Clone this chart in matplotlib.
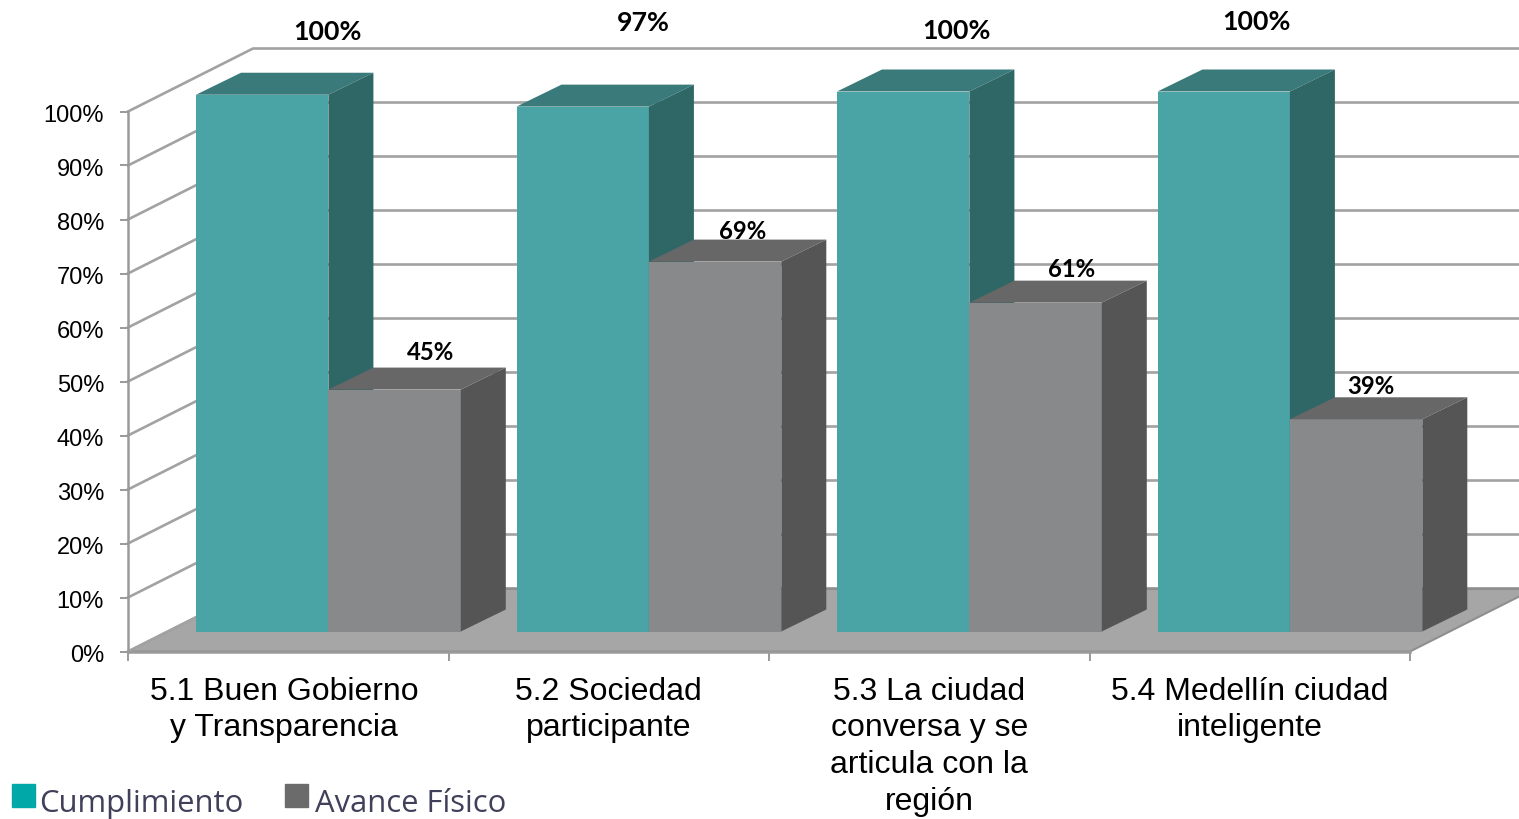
import matplotlib
matplotlib.use("Agg")
import matplotlib.pyplot as plt
from matplotlib.patches import Polygon, Patch
from matplotlib.transforms import ScaledTranslation

categories = ["5.1 Buen Gobierno\ny Transparencia", "5.2 Sociedad\nparticipante",
              "5.3 La ciudad\nconversa y se\narticula con la\nregión", "5.4 Medellín ciudad\ninteligente"]
cumplimiento = [99.4, 97.2, 100, 100]
avance = [44.8, 68.5, 60.9, 39.3]
cumplimiento_labels = ["100%", "97%", "100%", "100%"]
avance_labels = ["45%", "69%", "61%", "39%"]
series_names = ["Cumplimiento", "Avance Físico"]
yticks = list(range(0, 101, 10))
category_ticks = [0.4875, 1.5, 2.5, 3.5]

W, H = 1519, 819
L, R, T, B = 128, 1410, 111.5, 651.5
PX_X = (R - L) / 4
PX_Y = (B - T) / 100
WALL_DX, WALL_DY = 125 / PX_X, 63 / PX_Y      # depth of the box
BAR_DX, BAR_DY = 45 / PX_X, 22 / PX_Y         # depth of a bar
FRONT_DX, FRONT_DY = 40 / PX_X, 20 / PX_Y     # bar offset from the front edge
GAP = 28 / PX_X
BW = 132.4 / PX_X

TEAL = ("#4aa3a5", "#3a7a7a", "#2f6666")
GREY = ("#88898b", "#676768", "#555556")
LINE = "#a2a2a2"

# text offsets from the centre of each bar top, in pixels
cum_off = [(65.5, -63), (61, -84), (53.5, -60), (33, -69.5)]
ava_off = [(36, -37), (27.5, -30), (36, -33), (14.5, -33)]

fig = plt.figure(figsize=(W / 100, H / 100), dpi=100, facecolor="white")
ax = fig.add_axes([L / W, (H - B) / H, (R - L) / W, (B - T) / H])
ax.set_xlim(0, 4)
ax.set_ylim(0, 100)
ax.patch.set_visible(False)

# floor
ax.add_patch(Polygon([(0, 0), (WALL_DX, WALL_DY), (4 + WALL_DX, WALL_DY), (4, 0)],
                     closed=True, fc="#a6a6a6", ec="#8f8f8f", lw=1.5, clip_on=False, zorder=1))
# walls
for v in yticks:
    ax.plot([0, WALL_DX, 4 + WALL_DX], [v, v + WALL_DY, v + WALL_DY], color=LINE, lw=1.9,
            clip_on=False, zorder=0.8 if v else 1.2, solid_joinstyle="miter")
ax.plot([WALL_DX, 4 + WALL_DX], [WALL_DY, WALL_DY], color="#8f8f8f", lw=1.5, clip_on=False, zorder=1.2)


def bar3d(x, v, cols, z):
    bottom = FRONT_DY
    x0 = x + FRONT_DX
    x1 = x0 + BW
    ax.bar(x0, v, bottom=bottom, width=BW, align="edge", color=cols[0], clip_on=False, zorder=z)
    top = bottom + v
    ax.add_patch(Polygon([(x0, top), (x1, top), (x1 + BAR_DX, top + BAR_DY), (x0 + BAR_DX, top + BAR_DY)],
                         closed=True, fc=cols[1], ec="none", clip_on=False, zorder=z))
    ax.add_patch(Polygon([(x1, bottom), (x1 + BAR_DX, bottom + BAR_DY), (x1 + BAR_DX, top + BAR_DY), (x1, top)],
                         closed=True, fc=cols[2], ec="none", clip_on=False, zorder=z))
    return (x0 + x1) / 2, top


for i in range(4):
    xc, top = bar3d(i + GAP, cumplimiento[i], TEAL, 2 + i * 2)
    ax.annotate(cumplimiento_labels[i], (xc, top), xytext=(cum_off[i][0] * .72, -cum_off[i][1] * .72),
                textcoords="offset points", ha="center", va="center", family="Lato",
                fontweight="bold", fontsize=19.3, color="black", annotation_clip=False, zorder=20)
    xc, top = bar3d(i + GAP + BW, avance[i], GREY, 3 + i * 2)
    ax.annotate(avance_labels[i], (xc, top), xytext=(ava_off[i][0] * .72, -ava_off[i][1] * .72),
                textcoords="offset points", ha="center", va="center", family="Lato",
                fontweight="bold", fontsize=17.2, color="black", annotation_clip=False, zorder=20)

# axes
for s in ("top", "right"):
    ax.spines[s].set_visible(False)
for s in ("left", "bottom"):
    ax.spines[s].set_color("#9a9a9a")
    ax.spines[s].set_linewidth(1.8)
    ax.spines[s].set_zorder(1.5)
ax.set_yticks(yticks)
ax.tick_params(axis="y", length=6, width=1.4, color="#9a9a9a", pad=11.2)
ax.set_yticklabels([f"{v}%" for v in yticks], family="Liberation Sans", fontsize=17)
shift = ScaledTranslation(0, -2 / 100, fig.dpi_scale_trans)
for lab in ax.get_yticklabels():
    lab.set_transform(lab.get_transform() + shift)
ax.set_xticks(range(5))
ax.set_xticklabels([])
ax.tick_params(axis="x", which="major", length=6.5, width=1.4, color="#9a9a9a")
ax.set_xticks(category_ticks, minor=True)
ax.set_xticklabels(categories, minor=True, family="Liberation Sans", fontsize=23)
for lab in ax.get_xticklabels(minor=True):
    lab.set_linespacing(1.3)
ax.tick_params(axis="x", which="minor", length=0, pad=18)

leg = fig.legend(handles=[Patch(color="#00a8a8"), Patch(color="#6b6b6b")], labels=series_names,
                 loc="lower left", bbox_to_anchor=(-0.0023, -0.012), ncols=2, frameon=False,
                 prop={"family": "Open Sans", "size": 22.3}, labelcolor="#40405a",
                 handlelength=0.73, handleheight=0.8, handletextpad=0.23, columnspacing=1.27,
                 borderaxespad=0.2, borderpad=0.3)
leg.get_texts()[0].set_position((-3, -6))
leg.get_texts()[1].set_position((0, -6))

fig.savefig("out.png", dpi=100)
